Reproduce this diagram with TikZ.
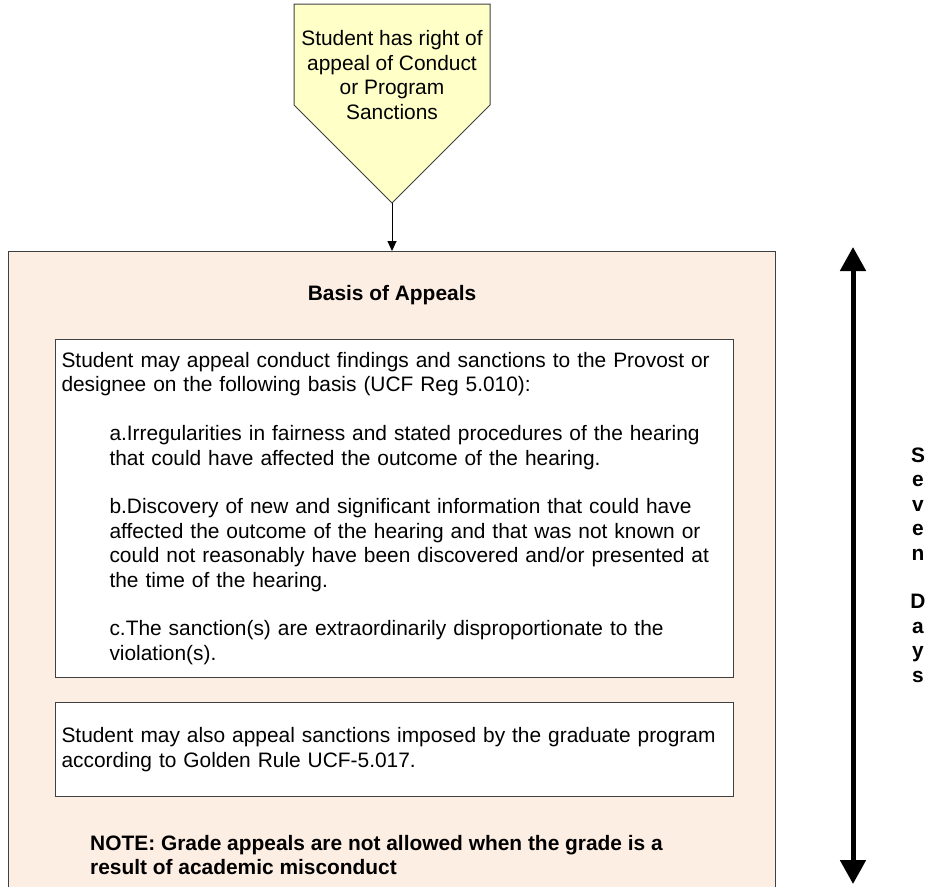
\documentclass[tikz,border=0pt]{standalone}
\usepackage{fontspec}
\setmainfont{Liberation Sans}
\usetikzlibrary{positioning,arrows.meta}
\definecolor{padyellow}{RGB}{255,255,200}
\definecolor{peach}{RGB}{253,238,227}
\definecolor{rim}{RGB}{64,64,64}
\newcommand{\ind}{\hspace*{48pt}}
\begin{document}
\begin{tikzpicture}[x=1pt, y=-1pt,
    every node/.style={font=\fontsize{20.9}{24.4}\selectfont},
    textbox/.style={draw=rim, fill=white, line width=1pt, anchor=north west,
      minimum width=678pt, text width=666pt, inner xsep=6pt, align=left},
    bold/.style={font=\fontsize{20.9}{24.4}\selectfont\bfseries}]
  \useasboundingbox (0,0) rectangle (931,886);

  % appeal box and the area it leads to
  \draw[draw=rim, fill=padyellow, line width=1pt]
    (294,4) -- (490,4) -- (490,105) -- (392,203) -- (294,105) -- cycle;
  \node[align=center] (right) at (392,75)
    {Student has right of\\appeal of Conduct\\or Program\\Sanctions};
  \coordinate (tip) at (392,203);
  \node[draw=rim, fill=peach, line width=1pt, anchor=north west,
    minimum width=767pt, minimum height=640pt] (basis) at (8,251) {};
  \draw[line width=1pt, -{Triangle[length=10pt,width=9pt]}] (tip) -- (basis.north);

  \node[bold] (title) at (392,295) {Basis of Appeals};
  \node[textbox, minimum height=338pt] (grounds) at (55,339)
    {Student may appeal conduct findings and sanctions to the Provost or\\
     designee on the following basis (UCF Reg 5.010):\\[24.4pt]
     \ind a.Irregularities in fairness and stated procedures of the hearing\\
     \ind that could have affected the outcome of the hearing.\\[24.4pt]
     \ind b.Discovery of new and significant information that could have\\
     \ind affected the outcome of the hearing and that was not known or\\
     \ind could not reasonably have been discovered and/or presented at\\
     \ind the time of the hearing.\\[24.4pt]
     \ind c.The sanction(s) are extraordinarily disproportionate to the\\
     \ind violation(s).};
  \node[textbox, minimum height=94pt] (golden) at (55,702)
    {Student may also appeal sanctions imposed by the graduate program\\
     according to Golden Rule UCF-5.017.};
  \node[bold, anchor=north west, inner sep=0pt, align=left] (note) at (90,835)
    {NOTE: Grade appeals are not allowed when the grade is a\\
     result of academic misconduct};

  % time limit
  \coordinate (start) at (853,247);
  \coordinate (stop) at (853,884);
  \draw[line width=5pt, {Triangle[length=24pt,width=25pt]}-{Triangle[length=24pt,width=25pt]}]
    (start) -- (stop);
  \node[bold, align=center] (days) at (918,565)
    {S\\e\\v\\e\\n\\[24.4pt]D\\a\\y\\s};
\end{tikzpicture}
\end{document}
